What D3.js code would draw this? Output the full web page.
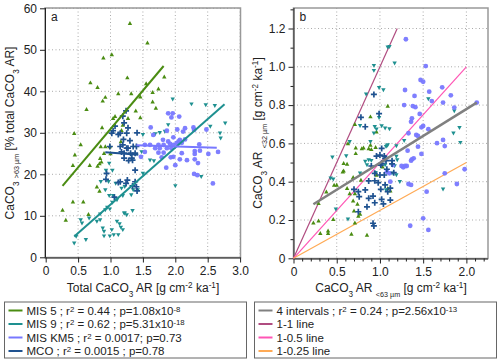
<!DOCTYPE html>
<html><head><meta charset="utf-8">
<script src="https://cdn.jsdelivr.net/npm/d3@7"></script>
<style>body{margin:0;background:#fff}svg{display:block;font-family:"Liberation Sans",Arial,sans-serif}</style>
</head><body><svg id="c" width="500" height="364"></svg>
<script>
// ---------- DATA ----------
const ticksAx = [0,0.5,1.0,1.5,2.0,2.5,3.0];
const ticksAy = [0,10,20,30,40,50,60];
const ticksBx = [0,0.5,1.0,1.5,2.0];
const ticksBy = [0,0.2,0.4,0.6,0.8,1.0,1.2];

const mis5A = [[1.30,56.4],[1.57,51.7],[1.02,48.9],[0.89,48.1],[0.69,42.1],[0.80,41.0],[1.26,43.3],[1.83,43.5],[1.55,41.9],[1.74,40.6],[1.65,39.8],[1.12,39.5],[1.32,39.5],[0.92,38.6],[0.88,37.7],[0.63,35.7],[1.46,38.7],[1.70,36.0],[1.39,35.3],[1.07,34.0],[1.04,33.5],[1.46,33.7],[1.27,33.5],[0.44,29.9],[0.54,27.2],[0.87,31.3],[1.19,31.9],[1.17,30.6],[1.16,27.9],[0.45,24.7],[0.42,22.2],[0.68,22.2],[0.92,26.7],[0.85,26.7],[0.99,26.7],[0.90,25.1],[0.84,23.9],[0.86,23.0],[0.83,22.6],[0.80,22.0],[0.79,17.0],[0.83,16.0],[0.42,13.4],[0.58,13.4],[0.26,11.4],[0.31,9.0],[0.66,10.4],[1.00,25.0],[1.65,37.5]];
const mis9A = [[1.96,38.1],[2.25,36.9],[2.61,36.5],[2.47,36.7],[2.77,32.3],[2.69,29.9],[2.70,28.7],[2.54,31.5],[1.50,29.5],[1.89,31.9],[1.69,29.7],[1.76,30.0],[1.84,30.3],[1.67,23.2],[2.40,19.4],[2.00,17.2],[1.48,25.4],[1.50,20.2],[1.61,23.4],[0.98,22.6],[1.03,20.9],[0.93,20.9],[0.85,18.2],[0.97,18.2],[1.08,17.8],[0.92,16.2],[1.17,16.6],[1.22,17.0],[1.35,16.2],[1.42,16.2],[1.32,15.0],[0.98,14.8],[1.04,14.8],[1.19,14.8],[1.10,13.8],[1.03,13.2],[0.95,12.0],[0.92,11.4],[0.99,11.6],[1.22,10.6],[1.25,10.2],[0.84,10.4],[1.10,8.6],[1.14,8.0],[1.16,7.2],[1.19,6.6],[1.02,6.6],[1.05,5.4],[0.84,9.0],[0.79,8.6],[0.88,7.0],[0.90,6.2],[0.90,5.1],[0.67,9.4],[0.54,9.0],[0.56,8.2],[0.47,5.0],[0.62,4.2],[0.44,3.4],[0.99,5.1],[1.12,5.4],[1.34,11.2],[1.21,10.6]];
const km5A = [[1.89,34.7],[1.96,34.7],[1.94,33.7],[2.06,33.9],[1.62,31.3],[1.87,30.5],[2.03,30.8],[2.15,31.1],[2.28,31.3],[2.29,30.7],[2.12,30.3],[2.48,30.8],[1.66,29.5],[1.97,28.9],[1.81,28.3],[1.89,27.9],[2.07,28.3],[2.15,28.4],[1.53,27.1],[1.61,27.1],[1.74,27.1],[1.82,27.1],[1.92,27.3],[1.97,27.1],[2.02,27.5],[2.05,27.9],[2.10,27.6],[1.69,26.3],[1.76,26.3],[1.87,26.3],[1.94,26.3],[1.53,25.4],[1.74,25.2],[1.82,25.2],[2.30,25.6],[2.38,25.7],[2.30,24.9],[2.37,27.2],[2.51,24.9],[2.66,25.4],[2.10,25.1],[1.97,24.2],[1.79,24.1],[1.93,24.1],[2.07,23.6],[2.18,23.4],[2.30,23.6],[1.86,21.6],[2.00,22.2],[2.35,22.7],[2.29,20.1],[2.34,19.8],[2.58,17.8],[1.47,24.2]];
const mcoA = [[1.24,35.3],[1.19,34.0],[1.21,32.4],[1.27,31.2],[1.07,31.6],[1.04,30.5],[1.12,29.6],[1.25,29.9],[1.41,30.0],[1.02,29.9],[1.15,29.9],[0.99,26.7],[1.20,28.4],[1.30,28.1],[1.35,26.7],[1.40,26.7],[1.15,26.7],[1.27,26.3],[1.19,27.1],[1.25,26.3],[1.21,25.1],[1.31,25.1],[1.38,25.1],[1.17,25.4],[1.21,23.9],[1.28,23.3],[1.34,23.4],[1.33,23.9],[1.38,21.0],[0.94,20.2],[0.93,18.8],[1.12,18.0],[1.24,17.8],[1.34,17.2],[1.38,18.2],[1.15,18.2],[1.26,18.6],[1.41,16.0],[1.40,17.0],[1.06,14.5]];

const mis5B = [[1.09,0.795],[0.89,0.740],[0.71,0.700],[0.96,0.661],[0.63,0.600],[0.72,0.578],[0.81,0.578],[0.90,0.569],[0.87,0.574],[0.89,0.592],[0.95,0.580],[0.58,0.496],[0.58,0.457],[0.57,0.452],[0.50,0.383],[0.38,0.348],[0.29,0.287],[0.23,0.186],[0.29,0.196],[0.46,0.204],[0.31,0.131],[0.40,0.144],[0.40,0.131],[0.67,0.127],[0.85,0.122],[0.71,0.186],[0.75,0.221],[0.77,0.231],[0.70,0.249],[0.74,0.284],[0.69,0.301],[0.62,0.366],[0.65,0.339],[0.71,0.339],[0.78,0.409],[0.69,0.423],[1.09,0.366],[0.96,0.435],[0.62,0.493],[0.72,0.548],[0.79,0.574],[1.03,0.478],[1.12,0.353],[0.47,0.383]];
const mis9B = [[1.09,1.102],[1.11,1.105],[1.17,1.018],[0.93,1.006],[0.93,0.980],[0.99,0.891],[1.04,0.879],[0.84,0.856],[0.77,0.692],[0.99,0.734],[0.94,0.687],[0.96,0.674],[0.93,0.653],[1.02,0.691],[1.06,0.679],[1.11,0.675],[1.09,0.592],[1.07,0.583],[0.89,0.609],[1.56,0.832],[1.86,0.769],[1.92,0.682],[1.85,0.653],[1.93,0.604],[1.28,0.614],[0.61,0.534],[0.45,0.527],[0.43,0.418],[0.46,0.413],[0.49,0.256],[0.63,0.204],[0.85,0.487],[0.87,0.513],[0.90,0.510],[1.06,0.487],[1.14,0.444],[1.17,0.482],[1.23,0.400],[1.19,0.586],[1.08,0.586],[0.65,0.609],[0.95,0.447],[1.73,0.360],[1.19,0.531],[1.20,0.513],[1.19,0.435],[1.07,0.357],[0.77,0.444],[0.83,0.505]];
const km5B = [[1.30,1.144],[1.53,1.004],[1.47,0.931],[1.50,0.922],[1.29,0.879],[1.57,0.870],[1.72,0.893],[1.82,0.851],[1.40,0.848],[1.28,0.800],[1.38,0.795],[1.41,0.789],[1.60,0.821],[1.73,0.813],[1.86,0.787],[2.12,0.813],[1.46,0.754],[1.37,0.731],[1.36,0.713],[1.50,0.691],[1.48,0.684],[1.56,0.674],[1.33,0.653],[1.42,0.644],[1.44,0.639],[1.66,0.601],[1.73,0.618],[1.75,0.586],[1.44,0.583],[1.32,0.562],[1.15,0.487],[1.29,0.482],[1.27,0.475],[1.37,0.517],[1.39,0.522],[1.36,0.510],[1.48,0.545],[1.33,0.388],[1.36,0.383],[1.75,0.444],[1.89,0.388],[1.98,0.465],[1.54,0.348],[1.50,0.209],[1.35,0.170],[1.56,0.148],[1.08,0.452],[1.11,0.444],[1.12,0.400],[1.25,0.482],[1.31,0.482]];
const mcoB = [[0.93,0.856],[0.78,0.736],[0.83,0.687],[0.99,0.755],[1.02,0.574],[0.96,0.534],[1.00,0.539],[1.06,0.522],[1.02,0.496],[0.90,0.482],[1.14,0.510],[1.08,0.465],[0.94,0.444],[1.00,0.435],[1.05,0.435],[0.94,0.405],[0.98,0.395],[1.06,0.383],[1.12,0.366],[0.87,0.404],[0.83,0.357],[0.75,0.348],[0.76,0.322],[0.87,0.313],[0.92,0.325],[1.02,0.308],[1.04,0.284],[1.12,0.304],[0.85,0.269],[0.75,0.243],[0.92,0.183],[0.93,0.169],[1.01,0.487],[1.14,0.493],[1.16,0.447],[1.01,0.360],[1.09,0.348],[0.94,0.290],[0.70,0.360],[1.07,0.510],[1.05,0.534]];

// fitted / reference lines (endpoints)
const fitMis5 = [[0.26,17.2],[1.82,46.1]];
const fitMis9 = [[0.44,5.0],[2.76,36.9]];
const fitKm5  = [[1.40,27.0],[2.64,26.4]];
const fitMco  = [[0.92,25.3],[1.43,24.7]];
const fitAll  = [[0.23,0.282],[2.12,0.813]];
const line11  = [[0,0],[1.2,1.2]];
const line105 = [[0,0],[2.0,1.0]];
const line1025= [[0,0],[2.0,0.5]];

const legendA = [
  {label:["MIS 5 ; r",["2","sup"]," = 0.44 ; p=1.08x10",["-8","sup"]], color:"#4a8c12"},
  {label:["MIS 9 ; r",["2","sup"]," = 0.62 ; p=5.31x10",["-18","sup"]], color:"#1e9090"},
  {label:["MIS KM5 ; r",["2","sup"]," = 0.0017; p=0.73"], color:"#7878ff"},
  {label:["MCO ; r",["2","sup"]," = 0.0015 ; p=0.78"], color:"#1f5290"}
];
const legendB = [
  {label:["4 intervals ; r",["2","sup"]," = 0.24 ; p=2.56x10",["-13","sup"]], color:"#808080"},
  {label:["1-1 line"], color:"#b04c80"},
  {label:["1-0.5 line"], color:"#ff55b5"},
  {label:["1-0.25 line"], color:"#ffaa55"}
];

// ---------- STYLE ----------
const C = {mis5:"#4a8c12", mis9:"#1e9090", km5:"#7878ff", mco:"#1f5290"};
const svg = d3.select("#c");

function panel(o){
  const g = svg.append("g");
  const x = o.x, y = o.y;
  g.selectAll(".gx").data(o.tx.filter(d=>d>0)).enter().append("line")
    .attr("x1",d=>x(d)).attr("x2",d=>x(d)).attr("y1",o.top).attr("y2",o.bottom)
    .attr("stroke","#aaa").attr("stroke-dasharray","1,2.5").attr("stroke-width",1);
  g.selectAll(".gy").data(o.ty.filter(d=>d>0)).enter().append("line")
    .attr("x1",o.left).attr("x2",o.right).attr("y1",d=>y(d)).attr("y2",d=>y(d))
    .attr("stroke","#aaa").attr("stroke-dasharray","1,2.5").attr("stroke-width",1);
  g.append("rect").attr("x",o.left).attr("y",o.top).attr("width",o.right-o.left).attr("height",o.bottom-o.top)
    .attr("fill","none").attr("stroke","#999").attr("stroke-width",1.5);
  const fmt = o.fmt;
  if (o.minX) {
    g.append("g").attr("transform",`translate(0,${o.bottom})`)
      .call(d3.axisBottom(x).tickValues(o.minX).tickSize(3).tickFormat(""))
      .call(s=>{s.select(".domain").remove();});
    g.append("g").attr("transform",`translate(${o.left},0)`)
      .call(d3.axisLeft(y).tickValues(o.minY).tickSize(3).tickFormat(""))
      .call(s=>{s.select(".domain").remove();});
  }
  const ax = g.append("g").attr("transform",`translate(0,${o.bottom})`)
    .call(d3.axisBottom(x).tickValues(o.tx).tickSize(5).tickPadding(4).tickFormat(fmt.x));
  ax.select(".domain").attr("d",`M${o.left},0.5H${o.right}`);
  const ay = g.append("g").attr("transform",`translate(${o.left},0)`)
    .call(d3.axisLeft(y).tickValues(o.ty).tickSize(5).tickPadding(3).tickFormat(fmt.y));
  ay.select(".domain").attr("d",`M0.5,${o.top}V${o.bottom}`);
  g.selectAll(".tick text").attr("font-size",12).attr("fill","#222").attr("font-family","Liberation Sans, Arial, sans-serif");
  g.selectAll(".tick line").attr("stroke","#222");
  g.selectAll(".domain").attr("stroke","#222");
  g.append("text").attr("x",o.left+6).attr("y",o.top+13).attr("font-size",12).attr("fill","#222").text(o.tag);
  return g;
}

function tri(g, data, x, y, color, up){
  const s = 2.2;
  g.selectAll(null).data(data).enter().append("path")
    .attr("d",d=>{const px=x(d[0]), py=y(d[1]);
      return up ? `M${px},${py-s}L${px+s},${py+s*0.8}L${px-s},${py+s*0.8}Z`
                : `M${px},${py+s}L${px+s},${py-s*0.8}L${px-s},${py-s*0.8}Z`;})
    .attr("fill",color);
}
function circ(g, data, x, y, color){
  g.selectAll(null).data(data).enter().append("circle")
    .attr("cx",d=>x(d[0])).attr("cy",d=>y(d[1])).attr("r",2.4).attr("fill",color).attr("opacity",0.95);
}
function cross(g, data, x, y, color){
  const s = 3;
  g.selectAll(null).data(data).enter().append("path")
    .attr("d",d=>{const px=x(d[0]), py=y(d[1]);return `M${px-s},${py}H${px+s}M${px},${py-s}V${py+s}`;})
    .attr("stroke",color).attr("stroke-width",1.7);
}
function seg(g, pts, x, y, color, w){
  g.append("path").attr("d",d3.line().x(d=>x(d[0])).y(d=>y(d[1]))(pts))
    .attr("stroke",color).attr("stroke-width",w).attr("fill","none");
}

// ---------- PANEL A ----------
const xa = d3.scaleLinear().domain([0,3]).range([45.7,240.1]);
const ya = d3.scaleLinear().domain([0,60]).range([257.3,8.3]);
const ga = panel({x:xa,y:ya,tx:ticksAx,ty:ticksAy,left:45,right:240.5,top:8,bottom:257.5,tag:"a",
  fmt:{x:d=>d===0?"0":d3.format(".1f")(d), y:d3.format("d")}});
tri(ga, mis5A, xa, ya, C.mis5, true);
tri(ga, mis9A, xa, ya, C.mis9, false);
circ(ga, km5A, xa, ya, C.km5);
cross(ga, mcoA, xa, ya, C.mco);
seg(ga, fitMis5, xa, ya, C.mis5, 2);
seg(ga, fitMis9, xa, ya, C.mis9, 2);
seg(ga, fitKm5, xa, ya, C.km5, 2);
seg(ga, fitMco, xa, ya, C.mco, 2);

// ---------- PANEL B ----------
const xb = d3.scaleLinear().domain([0,2.25]).range([293.5,488]);
const yb = d3.scaleLinear().domain([0,1.305]).range([258.3,8.4]);
const gb = panel({x:xb,y:yb,tx:ticksBx,ty:ticksBy,left:293.5,right:488,top:8,bottom:258.5,tag:"b",
  minX:d3.range(1,23).map(d=>d/10).filter(d=>Math.abs(d*2-Math.round(d*2))>1e-6),
  minY:d3.range(1,14).map(d=>d/10).filter(d=>Math.abs(d*5-Math.round(d*5))>1e-6),
  fmt:{x:d=>d===0?"0":d3.format(".1f")(d), y:d=>d===0?"0":d3.format(".1f")(d)}});
seg(gb, line11, xb, yb, legendB[1].color, 1.2);
seg(gb, line105, xb, yb, legendB[2].color, 1.2);
seg(gb, line1025, xb, yb, legendB[3].color, 1.2);
tri(gb, mis5B, xb, yb, C.mis5, true);
tri(gb, mis9B, xb, yb, C.mis9, false);
circ(gb, km5B, xb, yb, C.km5);
cross(gb, mcoB, xb, yb, C.mco);
seg(gb, fitAll, xb, yb, legendB[0].color, 2.5);

// ---------- TEXT HELPERS ----------
function rich(t, parts, fs, supDy){
  parts.forEach(p=>{
    if (typeof p === "string") t.append("tspan").text(p);
    else {
      const ts = t.append("tspan").attr("font-size",fs*0.68).text(p[0]);
      ts.attr("baseline-shift", p[1]==="sup" ? (supDy||"super") : "sub");
      if (p[1]==="subsm") ts.attr("font-size",fs*0.6);
    }
  });
}
const tFs = 12;
function title(x, y, rot, parts){
  const t = svg.append("text").attr("font-size",tFs).attr("fill","#222").attr("text-anchor","middle")
    .attr("transform",`translate(${x},${y}) rotate(${rot})`);
  rich(t, parts, tFs);
}
title(143, 292, 0, ["Total CaCO",["3","sub"]," AR [g cm",["-2","sup"]," ka",["-1","sup"],"]"]);
title(391, 292, 0, ["CaCO",["3","sub"]," AR ",["<63 µm","subsm"]," [g cm",["-2","sup"]," ka",["-1","sup"],"]"]);
title(14, 133, -90, ["CaCO",["3","sub"]," ",[">63 µm","subsm"]," [% total CaCO",["3","sub"]," AR]"]);
title(262, 133, -90, ["CaCO",["3","sub"]," AR ",["<32 µm","subsm"]," [g cm",["-2","sup"]," ka",["-1","sup"],"]"]);

// ---------- LEGENDS ----------
function legend(x0, items){
  const g = svg.append("g");
  g.append("rect").attr("x",x0).attr("y",302).attr("width",242).attr("height",56)
    .attr("fill","#fff").attr("stroke","#666").attr("stroke-width",1);
  items.forEach((it,i)=>{
    const yy = 310.5 + i*13.5;
    g.append("line").attr("x1",x0+4).attr("x2",x0+18).attr("y1",yy).attr("y2",yy)
      .attr("stroke",it.color).attr("stroke-width",2);
    const t = g.append("text").attr("x",x0+22).attr("y",yy+4.2).attr("font-size",11.5).attr("fill","#222");
    rich(t, it.label, 11.5, "3.5");
  });
}
legend(4.5, legendA);
legend(254.5, legendB);
</script></body></html>
